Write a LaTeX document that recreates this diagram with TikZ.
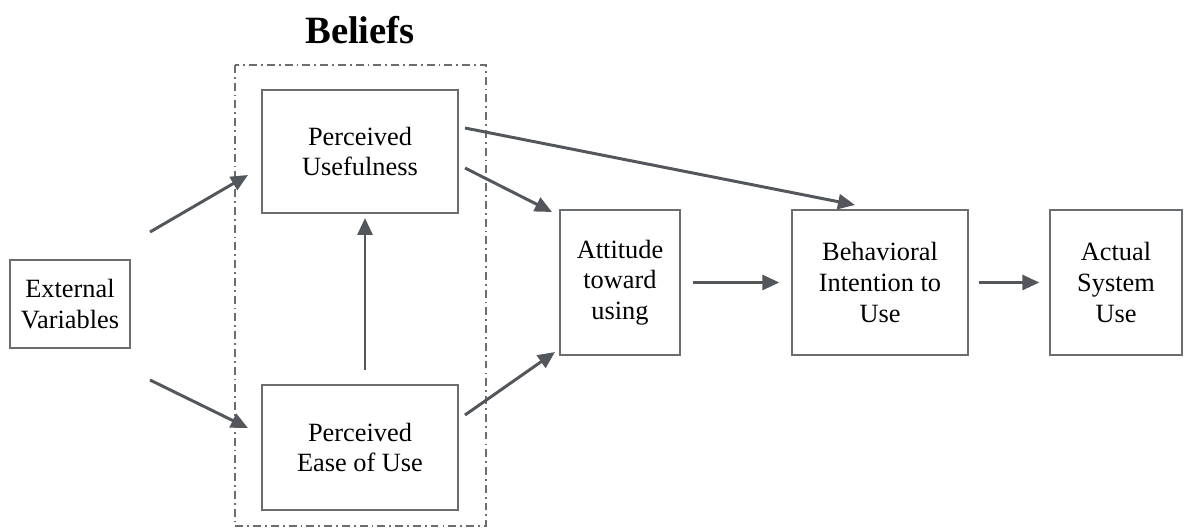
\documentclass[tikz,border=0pt]{standalone}
\usepackage{fontspec}
\setmainfont{Liberation Serif}
\usetikzlibrary{arrows.meta}
\definecolor{linegray}{HTML}{53575B}
\definecolor{boxgray}{HTML}{6B6E70}
\begin{document}
\begin{tikzpicture}[x=0.02cm,y=-0.02cm,
  box/.style={draw=boxgray,line width=0.8pt,fill=white,inner sep=0pt,
    align=center,font=\fontsize{15pt}{17.5pt}\selectfont},
  arr/.style={draw=linegray,line width=1.7pt,
    -{Triangle[length=0.34cm,width=0.3cm]}},
  beliefbox/.style={draw=boxgray,line width=1pt,
    dash pattern=on 4.5pt off 2.3pt on 1pt off 2.3pt}]
\useasboundingbox (0,0) rectangle (1184,530);

% group frame around the belief constructs
\draw[beliefbox] (235,65) rectangle (486,526);
\node[font=\fontsize{22pt}{24pt}\selectfont\bfseries] (title) at (360,30) {Beliefs};

% constructs
\node[box,minimum width=2.4cm,minimum height=1.76cm] (ext) at (70,304) {External\\Variables};
\node[box,minimum width=3.92cm,minimum height=2.46cm] (pu) at (360,151.5) {Perceived\\Usefulness};
\node[box,minimum width=3.92cm,minimum height=2.5cm] (peou) at (360,447.5) {Perceived\\Ease of Use};
\node[box,minimum width=2.4cm,minimum height=2.9cm] (att) at (620,282.5) {Attitude\\toward\\using};
\node[box,minimum width=3.52cm,minimum height=2.9cm] (bi) at (880,282.5) {Behavioral\\Intention to\\Use};
\node[box,minimum width=2.64cm,minimum height=2.9cm] (asu) at (1116,282.5) {Actual\\System\\Use};

% free connector ends
\coordinate (e1) at (150,232);
\coordinate (e2) at (150,380);
\coordinate (pu1) at (465,168);
\coordinate (pu2) at (465,128);
\coordinate (pe1) at (465,415);
\coordinate (pe2) at (365,370);
\coordinate (t1) at (248,175);
\coordinate (t2) at (248,428);
\coordinate (t3) at (365,218);
\coordinate (t4) at (552,212);
\coordinate (t5) at (555,352);
\coordinate (t6) at (855,205);

% connectors
\draw[arr] (e1) -- (t1);
\draw[arr] (e2) -- (t2);
\draw[arr] (pe2) -- (t3);
\draw[arr] (pu1) -- (t4);
\draw[arr] (pe1) -- (t5);
\draw[arr] (pu2) -- (t6);
\draw[arr,shorten <=0.24cm,shorten >=0.24cm] (att.east) -- (bi.west);
\draw[arr,shorten <=0.2cm,shorten >=0.2cm] (bi.east) -- (asu.west);
\end{tikzpicture}
\end{document}
